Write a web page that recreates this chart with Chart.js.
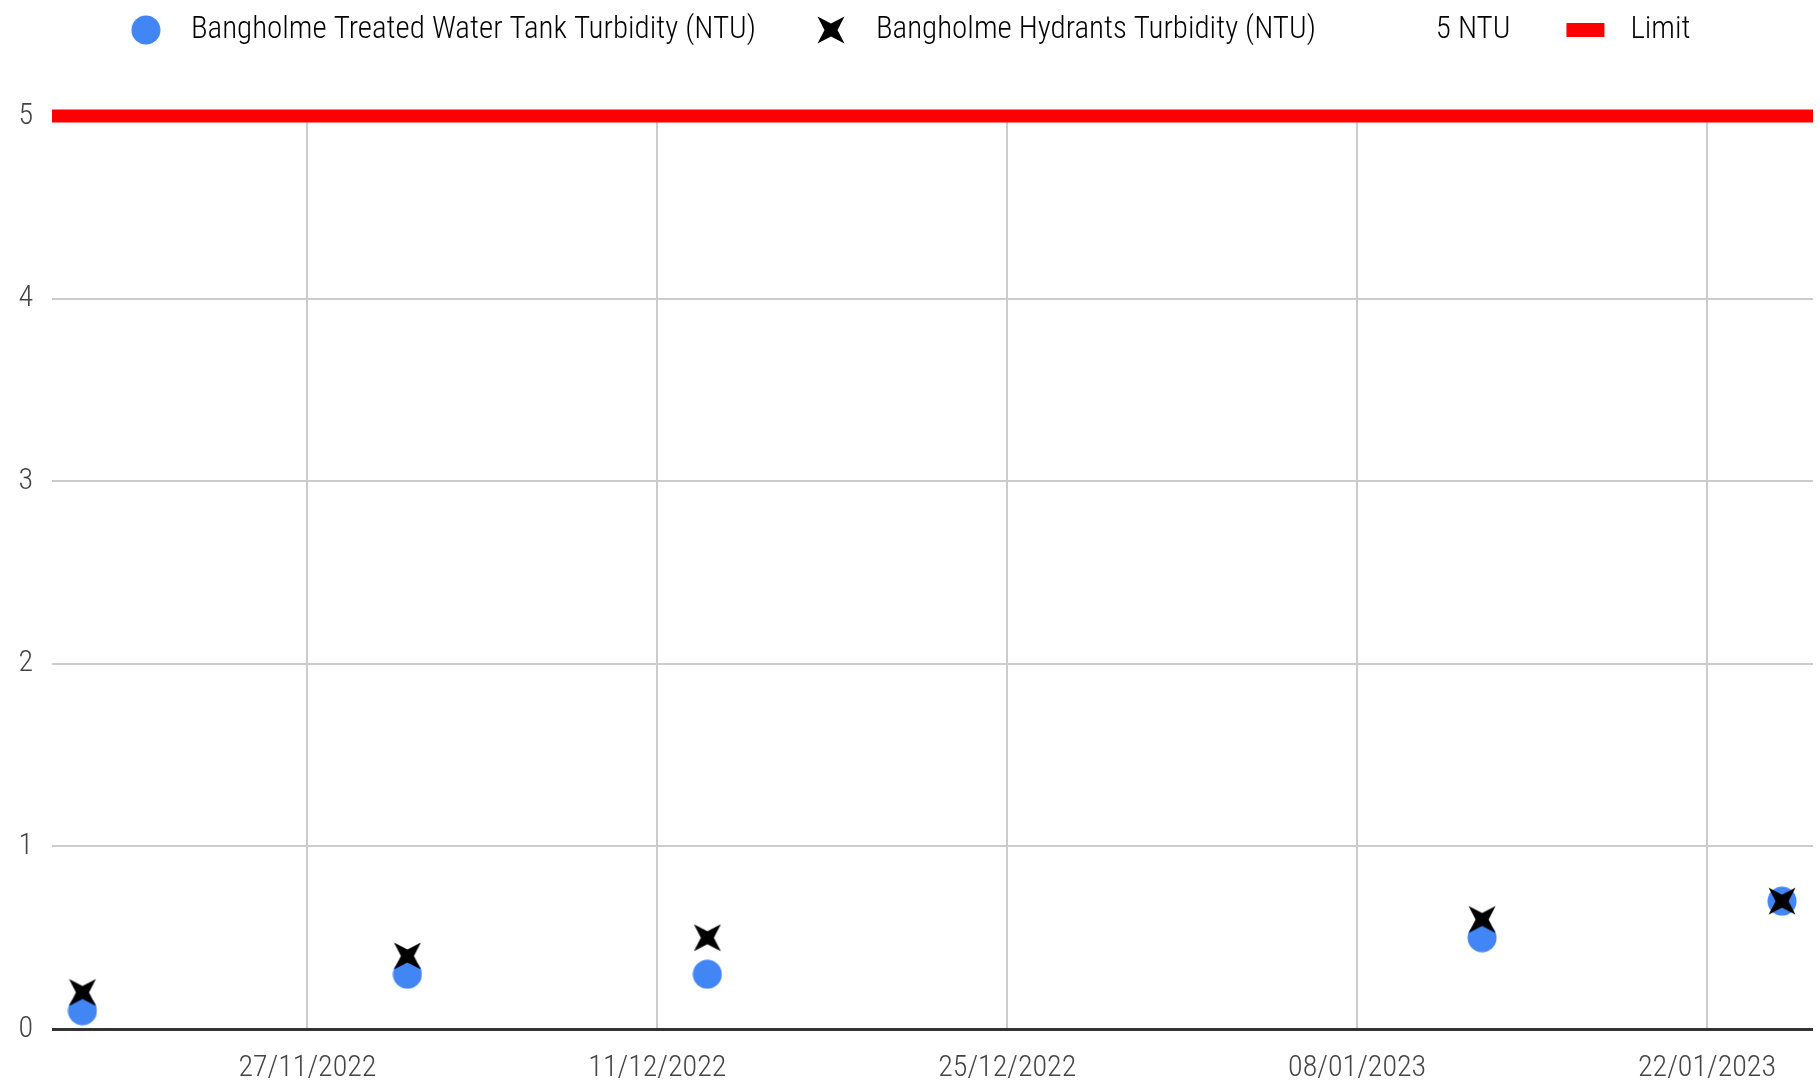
<!DOCTYPE html>
<html>
<head>
<meta charset="utf-8">
<script src="https://cdn.jsdelivr.net/npm/chart.js@4.4.1/dist/chart.umd.min.js"></script>
<style>
  html, body { margin: 0; padding: 0; background: #fff; overflow: hidden; }
  #wrap { width: 1820px; height: 1086px; position: relative; }
</style>
</head>
<body>
<div id="wrap"><canvas id="turbidityChart"></canvas></div>
<script>
// sample dates and readings
const sampleDates = ['18/11/2022', '01/12/2022', '13/12/2022', '13/01/2023', '25/01/2023'];
const tankTurbidity = [0.1, 0.3, 0.3, 0.5, 0.7];
const hydrantTurbidity = [0.2, 0.4, 0.5, 0.6, 0.7];
const tickDates = ['27/11/2022', '11/12/2022', '25/12/2022', '08/01/2023', '22/01/2023'];
const limitValue = 5;
const seriesLabels = ['Bangholme Treated Water Tank Turbidity (NTU)', 'Bangholme Hydrants Turbidity (NTU)', '5 NTU', 'Limit'];

const DAY = 86400000;
const FONT = '"Roboto Condensed", Roboto, sans-serif';

function parseDate(s) {
    const [d, m, y] = s.split('/').map(Number);
    return Date.UTC(y, m - 1, d);
}

const xMin = parseDate(sampleDates[0]) - 1.22 * DAY;
const xMax = parseDate(sampleDates[sampleDates.length - 1]) + 1.24 * DAY;

// marker images
function makeCanvas(w, h) {
    const c = document.createElement('canvas');
    c.width = w; c.height = h;
    return c;
}
function drawDot(ctx, cx, cy) {
    ctx.fillStyle = '#4285f4';
    ctx.beginPath();
    ctx.arc(cx, cy, 14.5, 0, Math.PI * 2);
    ctx.fill();
}
function drawStar(ctx, cx, cy) {
    const t = 13.5, k = 6.5;
    ctx.fillStyle = '#000';
    ctx.beginPath();
    ctx.moveTo(cx - t, cy - t);
    ctx.lineTo(cx, cy - k);
    ctx.lineTo(cx + t, cy - t);
    ctx.lineTo(cx + k, cy);
    ctx.lineTo(cx + t, cy + t);
    ctx.lineTo(cx, cy + k);
    ctx.lineTo(cx - t, cy + t);
    ctx.lineTo(cx - k, cy);
    ctx.closePath();
    ctx.fill();
}

const dotImg = makeCanvas(30, 30);
drawDot(dotImg.getContext('2d'), 15, 15);
const starImg = makeCanvas(30, 30);
drawStar(starImg.getContext('2d'), 15, 15);

// legend versions: marker sits left of the legend box centre
const LW = 80, LH = 32, LX = 37;
const legendDot = makeCanvas(LW, LH);
drawDot(legendDot.getContext('2d'), LX, LH / 2);
const legendStar = makeCanvas(LW, LH);
drawStar(legendStar.getContext('2d'), LX, LH / 2);
const legendBlank = makeCanvas(LW, LH);
const legendRect = makeCanvas(LW, LH);
(function () {
    const c = legendRect.getContext('2d');
    c.fillStyle = '#ff0000';
    c.fillRect(LX - 19, LH / 2 - 7, 38, 14);
})();
const legendImages = [legendDot, legendStar, legendBlank, legendRect];

const ctx = document.getElementById('turbidityChart').getContext('2d');
new Chart(ctx, {
    data: {
        datasets: [{
            type: 'scatter',
            label: seriesLabels[0],
            data: sampleDates.map((d, i) => ({ x: parseDate(d), y: tankTurbidity[i] })),
            pointStyle: dotImg,
            pointRadius: 14.5,
            pointHoverRadius: 14.5,
            order: 2,
            clip: false
        }, {
            type: 'scatter',
            label: seriesLabels[1],
            data: sampleDates.map((d, i) => ({ x: parseDate(d), y: hydrantTurbidity[i] })),
            pointStyle: starImg,
            pointRadius: 14,
            pointHoverRadius: 14,
            order: 1,
            clip: false
        }, {
            type: 'scatter',
            label: seriesLabels[2],
            data: [],
            order: 3
        }, {
            type: 'line',
            label: seriesLabels[3],
            data: [{ x: xMin, y: limitValue }, { x: xMax, y: limitValue }],
            borderColor: '#ff0000',
            backgroundColor: '#ff0000',
            borderWidth: 13,
            borderCapStyle: 'butt',
            pointRadius: 0,
            order: 0,
            clip: { left: 0, right: 0, top: 20, bottom: 0 }
        }]
    },
    options: {
        responsive: true,
        maintainAspectRatio: false,
        animation: false,
        layout: {
            autoPadding: false,
            padding: { top: -37, right: 7, bottom: 0, left: 0 }
        },
        scales: {
            x: {
                type: 'linear',
                min: xMin,
                max: xMax,
                afterBuildTicks: scale => {
                    scale.ticks = tickDates.map(d => ({ value: parseDate(d) }));
                },
                afterFit: scale => {
                    scale.height = 57;
                    scale.paddingLeft = 0;
                    scale.paddingRight = 0;
                },
                ticks: {
                    callback: (value, index) => tickDates[index],
                    autoSkip: false,
                    maxRotation: 0,
                    padding: 21,
                    color: '#444',
                    font: { family: FONT, size: 30, weight: 300 }
                },
                grid: {
                    color: '#cccccc',
                    lineWidth: 2,
                    drawTicks: false
                },
                border: { display: false }
            },
            y: {
                min: 0,
                max: 5,
                afterFit: scale => { scale.width = 52; },
                ticks: {
                    stepSize: 1,
                    padding: 19,
                    color: '#444',
                    font: { family: FONT, size: 30, weight: 300 }
                },
                grid: {
                    color: c => c.tick && c.tick.value === 0 ? '#333333' : '#cccccc',
                    lineWidth: c => c.tick && c.tick.value === 0 ? 3 : 2,
                    drawTicks: false
                },
                border: { display: false }
            }
        },
        plugins: {
            legend: {
                position: 'top',
                labels: {
                    usePointStyle: true,
                    pointStyleWidth: 53,
                    padding: 51.5,
                    color: '#222',
                    font: { family: FONT, size: 31, weight: 300 },
                    generateLabels: chart => seriesLabels.map((text, i) => ({
                        text: text,
                        pointStyle: legendImages[i],
                        fillStyle: 'transparent',
                        strokeStyle: 'transparent',
                        lineWidth: 0,
                        hidden: false,
                        datasetIndex: i
                    }))
                }
            },
            // empty title used as a spacer under the legend
            title: {
                display: true,
                text: '',
                weight: 500,
                font: { size: 10 },
                padding: { top: 0, bottom: 48.5 }
            },
            tooltip: { enabled: false }
        }
    }
});
</script>
</body>
</html>
